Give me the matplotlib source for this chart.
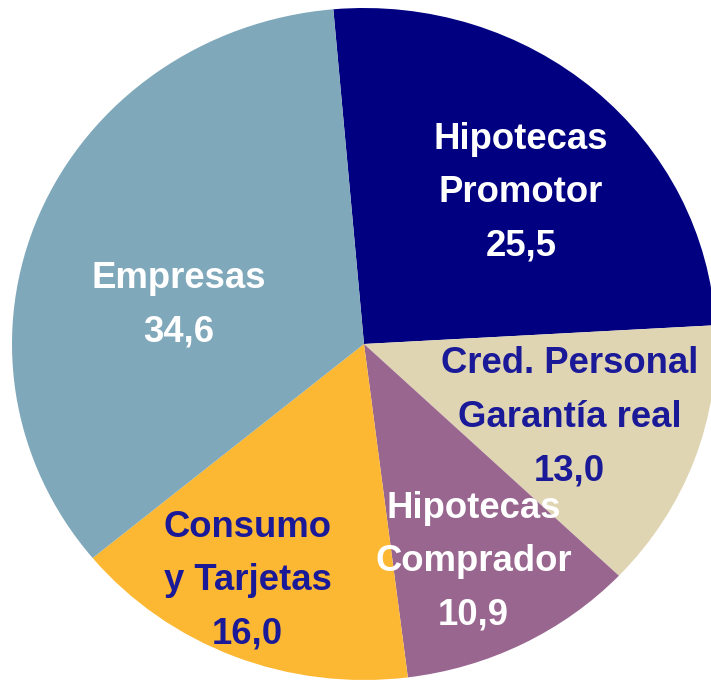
import matplotlib
matplotlib.use("Agg")
import matplotlib.pyplot as plt
import numpy as np

categories = ["Hipotecas\nPromotor", "Cred. Personal\nGarantía real", "Hipotecas\nComprador",
              "Consumo\ny Tarjetas", "Empresas"]
values = [25.5, 13.0, 10.9, 16.0, 34.6]
value_labels = ["25,5", "13,0", "10,9", "16,0", "34,6"]

colors = ["#000080", "#E0D5B3", "#996690", "#FDB833", "#7FA8BA"]
text_colors = ["white", "#1A1A99", "white", "#1A1A99", "white"]
# label anchor: (angle offset from wedge middle in degrees, radius fraction)
label_polar = [(-3.2, 0.64), (0.6, 0.62), (-0.8, 0.71), (-3.8, 0.77), (9.4, 0.54)]

fig = plt.figure(figsize=(7.11, 6.8), dpi=100)
ax = fig.add_axes([12/711, 0/680, 704/711, 672/680])
wedges, _ = ax.pie(values, colors=colors, startangle=95, counterclock=False,
                   wedgeprops=dict(linewidth=0, antialiased=True), radius=1.0)
ax.set_aspect("auto")
ax.set_xlim(-1, 1)
ax.set_ylim(-1, 1)
ax.axis("off")

for w, cat, vl, tc, (doff, rf) in zip(wedges, categories, value_labels, text_colors, label_polar):
    mid = np.deg2rad((w.theta1 + w.theta2) / 2 + doff)
    x, y = rf * np.cos(mid), rf * np.sin(mid) - 0.01
    ax.text(x, y, cat + "\n" + vl, ha="center", va="center", multialignment="center",
            color=tc, fontsize=26.3, fontweight="bold", family=["Liberation Sans", "DejaVu Sans"],
            linespacing=1.68)

fig.savefig("out.png", dpi=100)
